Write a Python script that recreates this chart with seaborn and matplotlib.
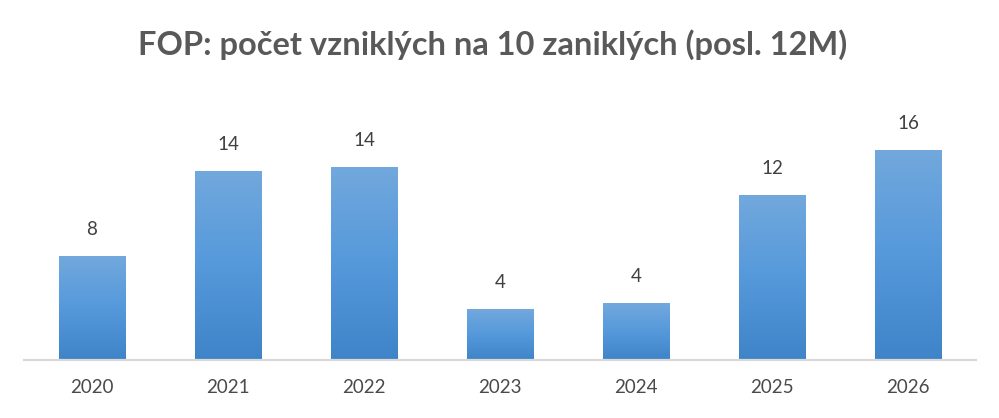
import numpy as np
import pandas as pd
import matplotlib
matplotlib.use("Agg")
import matplotlib.pyplot as plt
from matplotlib.colors import LinearSegmentedColormap
import seaborn as sns

years = ["2020", "2021", "2022", "2023", "2024", "2025", "2026"]
values = [7.8, 14.2, 14.45, 3.8, 4.25, 12.35, 15.75]
title = "FOP: počet vzniklých na 10 zaniklých (posl. 12M)"

sns.set_style("white")
plt.rcParams["font.family"] = ["Lato", "DejaVu Sans"]

df = pd.DataFrame({"year": years, "value": values})

fig = plt.figure(figsize=(9.99, 4.18), dpi=100)
ax = fig.add_axes([0.024, 0.139, 0.953, 0.574])
sns.barplot(data=df, x="year", y="value", color="#5B9BD5", width=0.49,
            ax=ax, saturation=1)

ax.set_ylim(0, 18)
ax.set_xlim(-0.5, len(years) - 0.5)

# gradient fill clipped to each bar
cmap = LinearSegmentedColormap.from_list("g", ["#3F84C8", "#5599DB", "#72A8DD"])
grad = np.linspace(0, 1, 256).reshape(-1, 1)
for p in ax.patches:
    x0, y0 = p.get_x(), p.get_y()
    w, h = p.get_width(), p.get_height()
    im = ax.imshow(grad, cmap=cmap, origin="lower", aspect="auto",
                   extent=[x0, x0 + w, y0, y0 + h], zorder=p.get_zorder() + 0.1)
    im.set_clip_path(p)
ax.set_xlim(-0.5, len(years) - 0.5)
ax.set_ylim(0, 18)

for i, v in enumerate(values):
    ax.annotate(f"{v:.0f}", (i, v), xytext=(0, 13), textcoords="offset points",
                ha="center", va="bottom", fontsize=13.5, color="#404040")

for s in ["top", "right", "left"]:
    ax.spines[s].set_visible(False)
ax.spines["bottom"].set_color("#D9D9D9")
ax.spines["bottom"].set_linewidth(1.6)
ax.set_yticks([])
ax.set_xlabel("")
ax.set_ylabel("")
ax.tick_params(axis="x", length=0, pad=14, labelsize=13.5, labelcolor="#4A4A4A")

fig.text(0.493, 0.893, title, ha="center", va="center", fontsize=23.5,
         fontweight="bold", color="#595959")

fig.savefig("out.png", dpi=100, facecolor="white")
